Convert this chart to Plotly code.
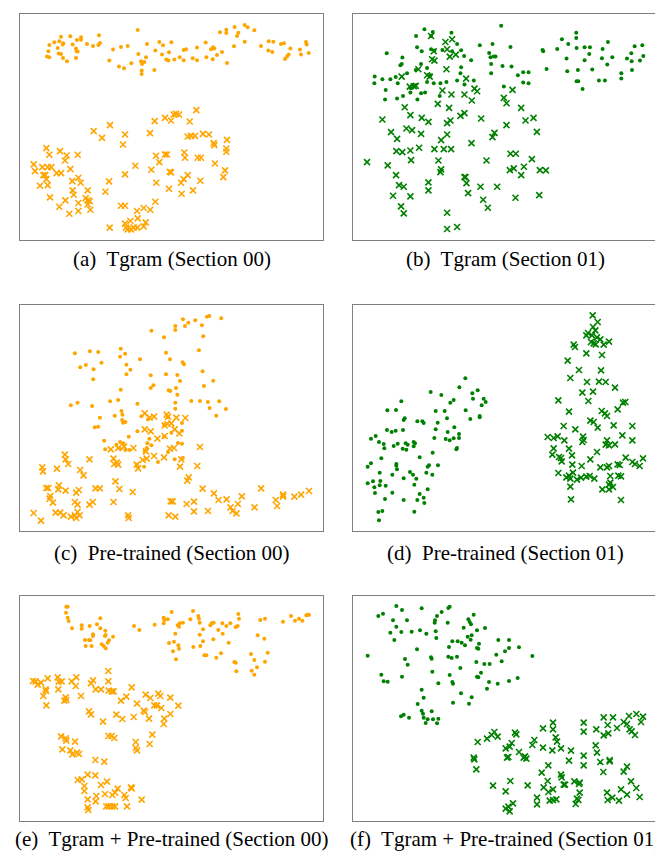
import plotly.graph_objects as go

# ---- data (t-SNE embedding coordinates, arbitrary units) ----
a_dots = [(390,66),(160,86),(188,85),(220,88),(220,95),(274,82),(140,103),(155,100),(167,106),(165,110),(208,96),(238,108),(256,114),(272,111),(277,105),
(125,111),(150,120),(195,110),(205,122),(207,130),(210,131),(122,130),(153,137),(160,138),(118,146),(125,148),(166,150),(178,160),(205,150),
(316,125),(340,117),(360,114),(305,158),(334,176),(349,181),(371,166),(392,138),(400,160),(403,168),(410,162),(415,148),(418,108),(402,188),(402,198),(440,186),(443,128),(455,102),(463,140),(466,112),(476,155),(482,158),(484,133),(491,103),(500,155),(516,148),(528,126),(535,124),(528,157),(555,151),(568,119),(568,157),(594,104),(596,148),(610,124),(616,118),(620,122),(615,154),(628,141),(643,132),(658,165),(637,73),(656,75),(656,65),(681,57),(692,74),(688,84),(679,115),(711,51),(720,58),(740,67),(711,101),
(760,114),(783,100),(797,101),(782,128),(794,132),(820,108),(829,106),(848,122),(843,140),(838,146),(832,153),(877,125),(895,102),(897,110),(880,140),(903,135)]
a_cross = [(566,307),(505,318),(498,320),(514,320),(472,330),(490,338),(441,340),(546,341),(307,352),(258,370),(283,390),(352,380),(427,376),(346,410),(540,386),(550,384),(562,384),(586,378),(604,380),(618,406),(620,412),(658,396),(656,422),(656,432),(116,421),(125,441),(157,430),(177,443),(172,458),(210,441),(445,444),(472,440),(478,440),(455,463),(530,434),(532,450),(570,450),(580,450),(78,470),(82,490),(104,478),(120,478),(131,478),(107,502),(113,502),(116,514),(147,496),(160,496),(188,484),(97,534),(120,532),(194,520),(212,510),(219,525),(195,548),(198,561),(240,548),(352,500),(383,474),(431,486),(486,492),(490,494),(446,525),(484,543),(520,525),(528,514),(540,502),(578,519),(522,558),(556,548),(622,467),(652,488),(647,508),(304,521),(293,552),(127,569),(155,597),(173,578),(185,618),(212,586),(212,610),(234,571),(240,578),(246,580),(240,590),(248,606),(340,594),(352,594),(443,582),(428,606),(408,601),(388,610),(390,632),(306,660),(352,648),(368,640),(414,644),(408,656),(355,660),(360,665),(370,665),(378,660),(389,660)]

b_dots = [(472,53),(242,64),(267,72),(323,74),(217,84),(262,84),(340,108),(220,118),(234,130),(262,124),(272,128),(296,126),(325,130),(352,127),(361,144),(408,112),(446,108),(500,117),(129,136),(176,149),(174,168),(170,172),(232,168),(216,186),(250,180),(382,157),(436,135),(440,148),(450,146),(455,146),(442,168),(476,174),(503,176),(442,196),(522,202),(538,193),(554,193),(538,224),(554,226),(93,206),(92,226),(116,214),(140,214),(156,207),(162,226),(190,196),(260,202),(250,222),(270,226),(290,226),(308,222),(340,218),(350,196),(352,178),(362,230),(390,218),(208,232),(200,254),(126,246),(124,275),(160,272),(178,264),(200,240),(221,275),(232,256),(244,254),(288,264),(596,126),(598,130),(608,183),(640,123),(654,94),(668,152),(673,108),(697,74),(697,90),(698,120),(722,118),(738,118),(736,138),(722,157),(702,186),(670,190),(698,220),(703,220),(716,243),(745,185),(765,218),(783,218),(776,123),(792,102),(774,151),(790,170),(805,148),(832,196),(832,212),(849,152),(862,136),(863,160),(872,115),(895,112),(898,144),(888,158),(864,186),(480,236)]
b_cross = [(262,84),(305,102),(325,94),(310,124),(318,146),(270,130),(265,154),(272,158),(336,140),(224,184),(250,202),(258,206),(308,184),(174,206),(367,212),(392,242),(400,250),(296,248),(323,260),(362,260),(384,278),(198,236),(210,235),(216,234),(282,288),(316,300),(183,298),(200,322),(234,330),(254,342),(310,346),(320,338),(350,324),(362,316),(412,332),(480,270),(488,286),(506,246),(532,300),(545,338),(569,330),(579,372),(488,352),(116,335),(142,373),(160,393),(188,362),(205,367),(232,378),(292,397),(310,380),(226,420),(158,430),(176,433),(200,428),(272,424),(300,424),(322,424),(383,406),(446,388),(452,375),(202,457),(284,458),(428,458),(70,463),(132,473),(157,502),(292,485),(290,493),(362,508),(365,508),(368,526),(166,532),(180,537),(148,564),(200,566),(254,524),(254,548),(373,556),(410,537),(460,537),(418,576),(432,600),(500,438),(516,438),(564,454),(498,487),(510,482),(540,477),(532,502),(588,487),(606,488),(515,570),(586,562),(172,596),(180,617),(310,615),(310,664),(340,658)]

c_dots = [(525,80),(541,90),(562,83),(597,72),(604,70),(640,77),(582,98),(531,100),(502,100),(502,112),(430,114),(468,134),(586,131),(573,173),(474,180),(486,200),(524,209),(528,215),(584,236),(588,280),(616,264),(474,245),(508,247),(516,265),(428,248),(436,278),(428,286),(482,293),(487,295),(504,286),(508,306),(502,330),(502,348),(550,325),(576,325),(600,328),(605,346),(634,326),(654,349),(625,369),(200,182),(245,176),(270,178),(280,210),(233,217),(216,224),(256,230),(255,260),(338,168),(351,183),(336,192),(355,216),(367,231),(355,245),(396,200),(338,291),(306,326),(330,322),(388,333),(188,338),(208,330),(252,340),(340,355),(343,366),(342,382),(345,390),(352,388),(320,369),(275,375),(260,404),(270,402),(400,371),(420,380),(388,416),(480,374),(468,396),(522,391),(522,414),(490,420),(468,432),(424,438),(418,452),(430,458),(416,466),(362,432),(336,448),(346,452),(325,456),(288,444),(291,470),(336,468),(352,472),(364,472),(410,476),(408,522),(510,451),(522,453),(480,478),(450,508),(500,500),(524,496),(386,516)]
c_cross = [(410,362),(425,375),(438,372),(476,366),(480,372),(505,375),(532,376),(470,398),(478,394),(490,392),(410,410),(428,416),(448,438),(470,430),(500,410),(514,422),(308,470),(330,466),(348,462),(376,466),(414,476),(438,490),(468,494),(486,468),(498,466),(520,500),(516,522),(576,463),(568,520),(542,554),(538,564),(316,498),(326,510),(318,514),(330,516),(386,516),(390,527),(404,502),(416,498),(170,486),(172,500),(180,514),(244,500),(216,532),(226,548),(102,524),(104,536),(146,528),(114,586),(120,586),(152,578),(150,590),(172,594),(204,600),(212,592),(262,587),(275,587),(322,566),(334,589),(374,598),(126,610),(124,618),(134,630),(200,628),(208,636),(244,636),(254,628),(316,628),(142,660),(156,660),(166,668),(188,672),(200,668),(208,658),(214,668),(204,676),(76,661),(98,684),(360,668),(362,676),(488,626),(494,626),(482,668),(502,672),(536,634),(558,627),(558,656),(584,588),(600,655),(618,602),(632,622),(656,620),(668,644),(674,655),(686,662),(690,634),(702,611),(740,644),(760,587),(804,622),(808,640),(826,612),(826,606),(860,612),(880,606),(904,595)]

d_dots = [(365,257),(261,298),(293,307),(347,284),(320,330),(330,322),(386,302),(402,293),(388,318),(420,318),(426,328),(414,338),(408,370),(408,374),(380,379),(366,353),(303,355),(310,377),(276,355),(282,390),(173,326),(131,353),(157,352),(180,382),(183,377),(221,386),(236,386),(240,391),(130,412),(144,418),(156,414),(178,412),(82,438),(96,430),(106,448),(120,454),(122,467),(150,460),(162,453),(177,468),(188,471),(186,452),(210,448),(214,452),(210,461),(192,456),(272,436),(276,410),(306,439),(318,443),(330,437),(346,424),(346,436),(332,404),(312,418),(338,470),(340,466),(267,480),(228,494),(113,497),(82,512),(72,522),(158,514),(158,519),(160,530),(108,540),(146,546),(180,557),(199,538),(208,546),(218,558),(248,540),(252,522),(256,518),(266,546),(283,518),(72,572),(88,566),(92,584),(110,565),(108,578),(126,579),(94,601),(124,619),(146,600),(180,622),(212,576),(221,622),(228,604),(240,615),(242,631),(252,590),(212,657),(104,658),(116,655),(106,683)]
d_cross = [(747,68),(762,88),(748,103),(755,113),(733,121),(728,128),(745,128),(760,134),(770,140),(742,148),(750,152),(756,155),(780,156),(796,147),(690,156),(694,163),(728,182),(775,187),(672,204),(706,232),(772,233),(680,256),(730,268),(766,267),(786,268),(814,285),(716,300),(748,297),(734,325),(644,323),(676,357),(774,355),(784,362),(790,370),(822,350),(838,330),(845,328),(660,400),(695,410),(740,384),(750,388),(762,405),(810,398),(866,400),(612,433),(630,436),(642,431),(662,443),(718,432),(720,442),(716,448),(790,443),(786,456),(796,458),(814,455),(836,428),(866,443),(630,467),(626,486),(646,493),(652,496),(654,506),(676,468),(685,488),(760,478),(740,500),(686,516),(714,520),(770,524),(790,524),(796,520),(822,515),(828,517),(846,495),(866,508),(874,514),(888,520),(898,497),(644,541),(668,554),(676,549),(688,540),(680,558),(700,561),(712,555),(728,552),(738,550),(752,558),(800,550),(824,549),(832,551),(800,570),(796,576),(808,583),(776,590),(796,590),(680,582),(682,620),(832,622)]

e_dots = [(176,72),(180,72),(175,90),(180,105),(183,115),(193,137),(222,128),(222,138),(246,130),(268,125),(278,107),(278,137),(293,144),(294,157),(292,160),(256,155),(256,160),(248,173),(232,172),(244,172),(234,190),(252,190),(282,185),(288,190),(294,197),(300,180),(304,173),(316,162),(379,130),(395,142),(441,126),(468,105),(470,112),(468,122),(480,110),(492,88),(510,128),(514,132),(516,122),(526,120),(548,110),(556,85),(572,100),(574,108),(576,120),(586,140),(503,153),(484,181),(499,177),(512,188),(514,198),(496,206),(505,230),(557,193),(576,156),(578,190),(586,176),(590,218),(596,218),(612,122),(618,120),(608,128),(632,142),(644,122),(656,130),(645,153),(617,170),(626,225),(640,212),(663,180),(668,122),(684,133),(694,108),(692,94),(690,130),(680,238),(684,240),(686,266),(730,214),(740,232),(732,264),(740,276),(750,158),(770,168),(758,112),(772,108),(780,210),(772,237),(748,254),(826,117),(850,100),(862,114),(874,108),(884,114),(896,98),(900,96),(904,96)]
e_cross = [(302,265),(302,296),(256,293),(250,302),(264,320),(280,320),(312,326),(318,326),(303,324),(76,295),(84,296),(100,300),(120,287),(90,306),(150,284),(153,297),(162,296),(192,296),(206,284),(204,310),(152,320),(114,320),(115,325),(107,340),(116,368),(174,344),(176,352),(170,354),(220,340),(372,314),(356,342),(340,354),(388,363),(414,336),(428,346),(452,333),(458,340),(488,345),(512,369),(440,368),(448,368),(461,376),(408,384),(412,388),(424,408),(470,408),(468,424),(488,394),(378,403),(344,409),(326,396),(286,417),(244,386),(250,395),(160,461),(174,467),(176,474),(202,477),(302,460),(312,460),(320,466),(384,478),(384,496),(388,503),(426,484),(434,456),(164,500),(188,503),(194,515),(208,510),(214,514),(263,532),(290,537),(210,592),(222,590),(240,576),(263,578),(230,610),(230,625),(280,607),(298,597),(240,650),(266,640),(264,656),(292,634),(314,637),(330,618),(322,630),(350,637),(354,646),(370,614),(372,617),(402,651),(240,674),(242,682),(296,671),(304,671),(314,671),(322,671),(358,671)]

f_dots = [(158,70),(175,82),(234,77),(104,100),(118,93),(148,113),(158,132),(190,113),(140,150),(152,172),(173,148),(204,147),(229,143),(248,153),(274,113),(273,120),(280,100),(294,88),(314,76),(318,72),(312,120),(276,146),(278,166),(374,110),(378,118),(382,125),(390,96),(360,135),(372,162),(384,158),(381,171),(400,143),(424,136),(406,183),(400,196),(404,198),(316,193),(326,176),(342,176),(354,180),(364,188),(220,200),(262,224),(264,228),(314,222),(324,226),(340,222),(72,219),(184,229),(192,246),(266,267),(318,277),(350,256),(398,238),(422,244),(438,244),(474,236),(458,216),(484,206),(496,196),(526,194),(464,172),(496,172),(566,220),(412,270),(400,282),(404,284),(436,298),(462,303),(496,295),(522,286),(430,318),(113,276),(120,296),(132,297),(175,282),(234,321),(240,345),(284,302),(326,298),(328,303),(352,332),(384,344),(376,363),(328,360),(222,364),(172,401),(180,396),(196,405),(234,384),(238,393),(240,405),(252,410),(264,386),(268,410),(284,408),(246,421),(280,422)]
f_cross = [(402,478),(430,468),(444,457),(452,448),(462,462),(390,525),(392,530),(398,560),(486,497),(498,492),(504,481),(514,450),(518,455),(490,525),(494,523),(526,508),(540,525),(548,528),(544,521),(572,472),(566,487),(598,495),(598,437),(628,420),(628,440),(636,464),(640,477),(626,503),(652,497),(682,504),(676,534),(720,420),(720,447),(720,519),(720,548),(758,440),(756,488),(760,510),(770,538),(779,568),(780,404),(808,404),(792,427),(794,452),(780,458),(820,436),(840,418),(850,424),(856,400),(878,394),(898,402),(892,418),(858,440),(864,446),(874,457),(798,532),(798,536),(850,552),(840,567),(614,548),(594,570),(612,595),(600,614),(614,628),(628,620),(618,654),(628,652),(638,650),(652,576),(654,584),(664,606),(660,606),(692,596),(706,604),(708,600),(708,630),(700,648),(696,664),(704,652),(448,609),(486,626),(500,595),(552,608),(486,678),(494,672),(498,686),(508,662),(580,645),(580,665),(790,630),(792,652),(806,645),(826,654),(832,620),(850,636),(862,596),(878,616),(888,643)]

captions = ["(a)\u00a0 Tgram (Section 00)", "(b)\u00a0 Tgram (Section 01)",
            "(c)\u00a0 Pre-trained (Section 00)", "(d)\u00a0 Pre-trained (Section 01)",
            "(e)\u00a0 Tgram + Pre-trained (Section 00)", "(f)\u00a0 Tgram + Pre-trained (Section 01)"]
colors = ["orange", "green", "orange", "green", "orange", "green"]

# ---- layout helpers ----
W, H = 663, 852
panels = [
    # pixel box (left, top, right, bottom), data range x, data range y
    (a_dots, a_cross, (12, 6, 315, 232), (37, 946), (18, 697)),
    (b_dots, b_cross, (345, 6, 650, 232), (28, 942), (18, 697)),
    (c_dots, c_cross, (12, 297, 315, 523), (35, 946), (37, 715)),
    (d_dots, d_cross, (345, 297, 649, 523), (28, 940), (37, 715)),
    (e_dots, e_cross, (12, 588, 315, 813), (37, 946), (40, 715)),
    (f_dots, f_cross, (345, 588, 649, 813), (28, 940), (40, 715)),
]
caption_y = [251, 545, 831]
serif = "'Liberation Serif', 'Times New Roman', Times, serif"

fig = go.Figure()
layout = dict(width=W, height=H, margin=dict(l=0, r=0, t=0, b=0),
              paper_bgcolor="white", plot_bgcolor="white", showlegend=False)
annotations = []
for i, (dots, cross, box, xr, yr) in enumerate(panels):
    n = i + 1
    xa = "x" if n == 1 else f"x{n}"
    ya = "y" if n == 1 else f"y{n}"
    col = colors[i]
    fig.add_trace(go.Scatter(x=[p[0] for p in dots], y=[p[1] for p in dots], mode="markers",
                             xaxis=xa, yaxis=ya,
                             marker=dict(symbol="circle", size=4, color=col, line=dict(width=0))))
    fig.add_trace(go.Scatter(x=[p[0] for p in cross], y=[p[1] for p in cross], mode="markers",
                             xaxis=xa, yaxis=ya,
                             marker=dict(symbol="x-thin", size=6, color=col, line=dict(width=1.6, color=col))))
    l, t, r, b = box
    ax_common = dict(showgrid=False, zeroline=False, showticklabels=False, ticks="",
                     showline=True, mirror=True, linecolor="#808080", linewidth=1.2)
    layout["xaxis" if n == 1 else f"xaxis{n}"] = dict(domain=[l / W, r / W], range=list(xr),
                                                      anchor=ya, **ax_common)
    layout["yaxis" if n == 1 else f"yaxis{n}"] = dict(domain=[1 - b / H, 1 - t / H], range=[yr[1], yr[0]],
                                                      anchor=xa, **ax_common)
    annotations.append(dict(text=captions[i], x=(l + r) / 2 / W, y=1 - caption_y[i // 2] / H,
                            xref="paper", yref="paper", xanchor="center", yanchor="middle",
                            showarrow=False, font=dict(family=serif, size=21, color="black")))
layout["annotations"] = annotations
fig.update_layout(**layout)
fig.write_html("out.html")
